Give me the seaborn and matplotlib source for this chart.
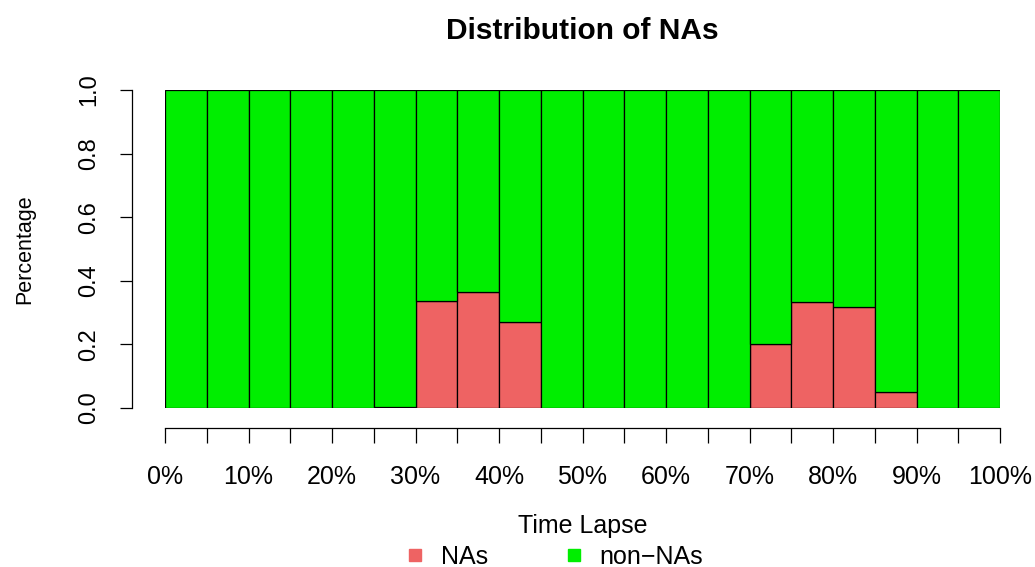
import matplotlib
matplotlib.use("Agg")
import matplotlib.pyplot as plt
from matplotlib.lines import Line2D
import numpy as np
import pandas as pd
import seaborn as sns

# share of NAs / non-NAs in each 5% slice of the time lapse
bin_start = [0, 5, 10, 15, 20, 25, 30, 35, 40, 45, 50, 55, 60, 65, 70, 75, 80, 85, 90, 95]
na_share = [0, 0, 0, 0, 0, 0.003, 0.337, 0.366, 0.270, 0, 0, 0, 0, 0, 0.201, 0.333, 0.317, 0.051, 0, 0]
non_na_share = [1, 1, 1, 1, 1, 0.997, 0.663, 0.634, 0.730, 1, 1, 1, 1, 1, 0.799, 0.667, 0.683, 0.949, 1, 1]
tick_labels = ["0%", "10%", "20%", "30%", "40%", "50%", "60%", "70%", "80%", "90%", "100%"]

colors = {"NAs": "#EE6363", "non-NAs": "#00EE00"}

df = pd.DataFrame({
    "start": bin_start * 2,
    "status": ["NAs"] * len(bin_start) + ["non-NAs"] * len(bin_start),
    "share": na_share + non_na_share,
})
df["mid"] = df["start"] + 2.5

sns.set_style("white")
plt.rcParams["font.family"] = ["Liberation Sans", "DejaVu Sans"]
plt.rcParams.update({"text.color": "black", "axes.labelcolor": "black",
                     "xtick.color": "black", "ytick.color": "black"})

fig = plt.figure(figsize=(10.35, 5.67), dpi=100)
ax = fig.add_axes([165 / 1035, 1 - 408 / 567, 835 / 1035, 318 / 567])

sns.histplot(data=df, x="mid", weights="share", hue="status",
             hue_order=["non-NAs", "NAs"], palette=colors,
             binwidth=5, binrange=(0, 100), multiple="stack",
             alpha=1, edgecolor="black", linewidth=0.9, legend=False, ax=ax)

ax.set_xlim(0, 100)
ax.set_ylim(0, 1)

# R-style detached axes (offsets in points: 33px and 20px at 100 dpi)
for s in ["top", "right"]:
    ax.spines[s].set_visible(False)
ax.spines["left"].set_position(("outward", 23.8))
ax.spines["left"].set_bounds(0, 1)
ax.spines["bottom"].set_position(("outward", 14.4))
ax.spines["bottom"].set_bounds(0, 100)
for s in ["left", "bottom"]:
    ax.spines[s].set_color("black")
    ax.spines[s].set_linewidth(0.9)

ax.set_yticks([0, 0.2, 0.4, 0.6, 0.8, 1.0])
ax.set_yticklabels(["0.0", "0.2", "0.4", "0.6", "0.8", "1.0"], rotation=90, va="center", fontsize=17)
ax.tick_params(axis="y", length=8.6, width=0.9, pad=14, left=True)

ax.set_xticks(np.arange(0, 105, 5))
ax.set_xticklabels([tick_labels[i // 2] if i % 2 == 0 else "" for i in range(21)], fontsize=18)
ax.tick_params(axis="x", length=10.8, width=0.9, pad=16, bottom=True)

ax.set_xlabel("Time Lapse", fontsize=18, labelpad=18)
ax.set_ylabel("Percentage", fontsize=15.5, labelpad=31)
ax.set_title("Distribution of NAs", fontsize=21.5, fontweight="bold", pad=37)

handles = [Line2D([], [], marker="s", linestyle="", markersize=8.5, color=colors["NAs"]),
           Line2D([], [], marker="s", linestyle="", markersize=8.5, color=colors["non-NAs"])]
fig.legend(handles, ["NAs", "non\u2212NAs"], loc="center", bbox_to_anchor=(553 / 1035, 1 - 557 / 567),
           ncol=2, frameon=False, fontsize=18, handletextpad=0.55, handlelength=1.0,
           columnspacing=2.9)

fig.savefig("out.png", dpi=100)
